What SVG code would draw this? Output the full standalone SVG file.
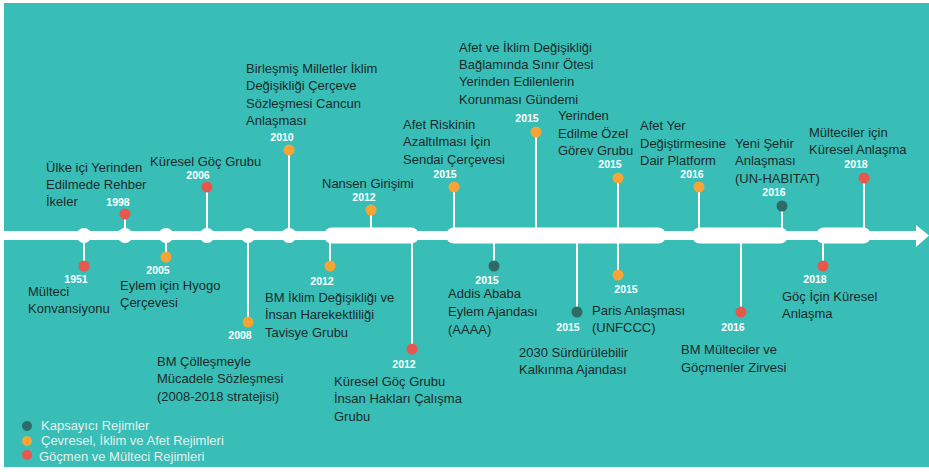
<svg xmlns="http://www.w3.org/2000/svg" width="929" height="472" viewBox="0 0 929 472">
<style>
.t{font-family:"Liberation Sans",Arial,sans-serif;font-size:13px;fill:#1c2a2a}
.y{font-family:"Liberation Sans",Arial,sans-serif;font-size:10.5px;font-weight:bold;fill:#ffffff;text-anchor:middle}
.lg{font-family:"Liberation Sans",Arial,sans-serif;font-size:13px;fill:#e4f1ef}
.stem{stroke:#ffffff;stroke-width:2;fill:none}
.red{fill:#e8574e}
.org{fill:#f6a436}
.drk{fill:#2e6b66}
.bar{fill:#ffffff}
</style>
<rect x="0" y="0" width="929" height="472" fill="#ffffff"/>
<rect x="4" y="3" width="925" height="464" fill="#38beb6"/>

<g id="connectors">
<line class="stem" x1="125" y1="214" x2="125" y2="236"/>
<line class="stem" x1="207" y1="187" x2="207" y2="236"/>
<line class="stem" x1="289" y1="150" x2="289" y2="236"/>
<line class="stem" x1="371" y1="210" x2="371" y2="236"/>
<line class="stem" x1="454" y1="187" x2="454" y2="236"/>
<line class="stem" x1="536" y1="132" x2="536" y2="236"/>
<line class="stem" x1="618" y1="178" x2="618" y2="236"/>
<line class="stem" x1="699" y1="187" x2="699" y2="236"/>
<line class="stem" x1="782" y1="206" x2="782" y2="236"/>
<line class="stem" x1="864" y1="178" x2="864" y2="236"/>
<line class="stem" x1="84" y1="236" x2="84" y2="266"/>
<line class="stem" x1="166" y1="236" x2="166" y2="257"/>
<line class="stem" x1="248" y1="236" x2="248" y2="322"/>
<line class="stem" x1="330" y1="236" x2="330" y2="266"/>
<line class="stem" x1="412" y1="236" x2="412" y2="349"/>
<line class="stem" x1="494" y1="236" x2="494" y2="266"/>
<line class="stem" x1="577" y1="236" x2="577" y2="312"/>
<line class="stem" x1="618" y1="236" x2="618" y2="275"/>
<line class="stem" x1="741" y1="236" x2="741" y2="312"/>
<line class="stem" x1="823" y1="236" x2="823" y2="266"/>
</g>

<g id="timeline">
<rect class="bar" x="4" y="231" width="914" height="9"/>
<polygon class="bar" points="916,225 929,235.5 916,247"/>
<circle class="bar" cx="84" cy="235.5" r="7.5"/>
<circle class="bar" cx="125" cy="235.5" r="7.5"/>
<circle class="bar" cx="166" cy="235.5" r="7.5"/>
<circle class="bar" cx="207" cy="235.5" r="7.5"/>
<circle class="bar" cx="248" cy="235.5" r="7.5"/>
<circle class="bar" cx="289" cy="235.5" r="7.5"/>
<rect class="bar" x="324" y="227.5" width="95" height="16" rx="8"/>
<rect class="bar" x="446" y="227.5" width="220" height="16" rx="8"/>
<rect class="bar" x="692" y="227.5" width="96" height="16" rx="8"/>
<rect class="bar" x="816" y="227.5" width="55" height="16" rx="8"/>
</g>

<g id="n1998">
<circle class="red" cx="125" cy="214" r="5.5"/>
<text class="y" x="118" y="206">1998</text>
<text class="t" x="46" y="172">Ülke içi Yerinden</text>
<text class="t" x="46" y="189">Edilmede Rehber</text>
<text class="t" x="46" y="206">İkeler</text>
</g>
<g id="n2006">
<circle class="red" cx="207" cy="187" r="5.5"/>
<text class="y" x="198" y="179">2006</text>
<text class="t" x="150" y="166">Küresel Göç Grubu</text>
</g>
<g id="n2010">
<circle class="org" cx="289" cy="150" r="5.5"/>
<text class="y" x="282" y="141">2010</text>
<text class="t" x="246" y="73">Birleşmiş Milletler İklim</text>
<text class="t" x="246" y="90">Değişikliği Çerçeve</text>
<text class="t" x="246" y="108">Sözleşmesi Cancun</text>
<text class="t" x="246" y="125">Anlaşması</text>
</g>
<g id="n2012nansen">
<circle class="org" cx="371" cy="210" r="5.5"/>
<text class="y" x="364" y="201">2012</text>
<text class="t" x="322" y="188">Nansen Girişimi</text>
</g>
<g id="n2015sendai">
<circle class="org" cx="454" cy="187" r="5.5"/>
<text class="y" x="445" y="178">2015</text>
<text class="t" x="403" y="129">Afet Riskinin</text>
<text class="t" x="403" y="146">Azaltılması İçin</text>
<text class="t" x="403" y="164">Sendai Çerçevesi</text>
</g>
<g id="n2015afet">
<circle class="org" cx="536" cy="132" r="5.5"/>
<text class="y" x="527" y="122">2015</text>
<text class="t" x="459" y="52">Afet ve İklim Değişikliği</text>
<text class="t" x="459" y="69">Bağlamında Sınır Ötesi</text>
<text class="t" x="459" y="86">Yerinden Edilenlerin</text>
<text class="t" x="459" y="104">Korunması Gündemi</text>
</g>
<g id="n2015gorev">
<circle class="org" cx="618" cy="178" r="5.5"/>
<text class="y" x="610" y="168">2015</text>
<text class="t" x="558" y="120">Yerinden</text>
<text class="t" x="558" y="138">Edilme Özel</text>
<text class="t" x="558" y="155">Görev Grubu</text>
</g>
<g id="n2016platform">
<circle class="org" cx="699" cy="187" r="5.5"/>
<text class="y" x="692" y="178">2016</text>
<text class="t" x="640" y="130">Afet Yer</text>
<text class="t" x="640" y="148">Değiştirmesine</text>
<text class="t" x="640" y="165">Dair Platform</text>
</g>
<g id="n2016habitat">
<circle class="drk" cx="782" cy="206" r="5.5"/>
<text class="y" x="774" y="196">2016</text>
<text class="t" x="735" y="148">Yeni Şehir</text>
<text class="t" x="735" y="165">Anlaşması</text>
<text class="t" x="735" y="183">(UN-HABITAT)</text>
</g>
<g id="n2018multeci">
<circle class="red" cx="864" cy="178" r="5.5"/>
<text class="y" x="856" y="168">2018</text>
<text class="t" x="809" y="137">Mülteciler için</text>
<text class="t" x="809" y="154">Küresel Anlaşma</text>
</g>

<g id="n1951">
<circle class="red" cx="84" cy="266" r="5.5"/>
<text class="y" x="76" y="283">1951</text>
<text class="t" x="28" y="296">Mülteci</text>
<text class="t" x="28" y="313">Konvansiyonu</text>
</g>
<g id="n2005">
<circle class="org" cx="166" cy="257" r="5.5"/>
<text class="y" x="158" y="274">2005</text>
<text class="t" x="120" y="290">Eylem için Hyogo</text>
<text class="t" x="120" y="307">Çerçevesi</text>
</g>
<g id="n2008">
<circle class="org" cx="248" cy="322" r="5.5"/>
<text class="y" x="240" y="339">2008</text>
<text class="t" x="157" y="366">BM Çölleşmeyle</text>
<text class="t" x="157" y="383">Mücadele Sözleşmesi</text>
<text class="t" x="157" y="401">(2008-2018 stratejisi)</text>
</g>
<g id="n2012iklim">
<circle class="org" cx="330" cy="266" r="5.5"/>
<text class="y" x="322" y="285">2012</text>
<text class="t" x="265" y="302">BM İklim Değişikliği ve</text>
<text class="t" x="265" y="319">İnsan Harekektliliği</text>
<text class="t" x="265" y="337">Tavisye Grubu</text>
</g>
<g id="n2012goc">
<circle class="red" cx="412" cy="349" r="5.5"/>
<text class="y" x="404" y="368">2012</text>
<text class="t" x="334" y="386">Küresel Göç Grubu</text>
<text class="t" x="334" y="403">İnsan Hakları Çalışma</text>
<text class="t" x="334" y="421">Grubu</text>
</g>
<g id="n2015addis">
<circle class="drk" cx="494" cy="266" r="5.5"/>
<text class="y" x="487" y="284">2015</text>
<text class="t" x="448" y="298">Addis Ababa</text>
<text class="t" x="448" y="316">Eylem Ajandası</text>
<text class="t" x="448" y="334">(AAAA)</text>
</g>
<g id="n2015sdg">
<circle class="drk" cx="577" cy="312" r="5.5"/>
<text class="y" x="568" y="331">2015</text>
<text class="t" x="519" y="357">2030 Sürdürülebilir</text>
<text class="t" x="519" y="374">Kalkınma Ajandası</text>
</g>
<g id="n2015paris">
<circle class="org" cx="618" cy="275" r="5.5"/>
<text class="y" x="626" y="293">2015</text>
<text class="t" x="592" y="315">Paris Anlaşması</text>
<text class="t" x="592" y="332">(UNFCCC)</text>
</g>
<g id="n2016zirve">
<circle class="red" cx="741" cy="312" r="5.5"/>
<text class="y" x="733" y="331">2016</text>
<text class="t" x="681" y="354">BM Mülteciler ve</text>
<text class="t" x="681" y="372">Göçmenler Zirvesi</text>
</g>
<g id="n2018goc">
<circle class="red" cx="823" cy="266" r="5.5"/>
<text class="y" x="815" y="283">2018</text>
<text class="t" x="782" y="301">Göç İçin Küresel</text>
<text class="t" x="782" y="318">Anlaşma</text>
</g>

<g id="legend">
<circle class="drk" cx="27" cy="426" r="5"/>
<circle class="org" cx="27" cy="441" r="5"/>
<circle class="red" cx="27" cy="455" r="5"/>
<text class="lg" x="41" y="430">Kapsayıcı Rejimler</text>
<text class="lg" x="41" y="445">Çevresel, İklim ve Afet Rejimleri</text>
<text class="lg" x="39" y="461">Göçmen ve Mülteci Rejimleri</text>
</g>
</svg>
